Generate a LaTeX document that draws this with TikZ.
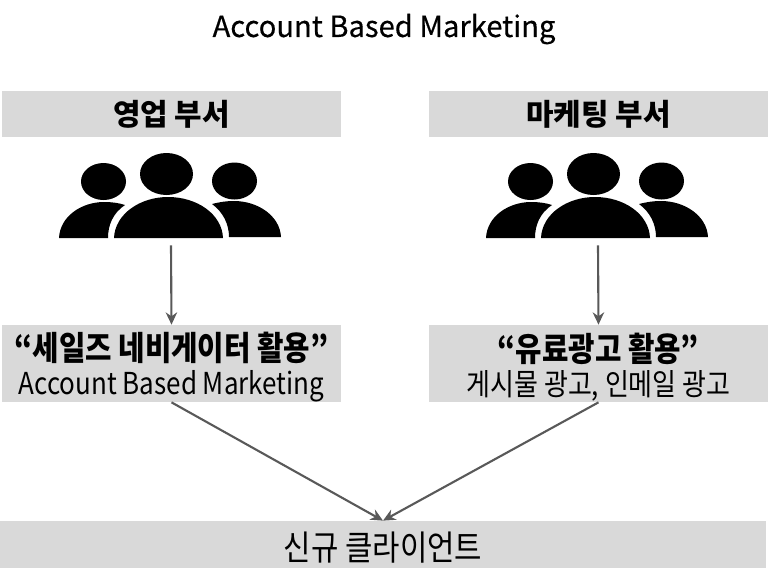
\documentclass[tikz,border=0pt]{standalone}
\usepackage{fontspec}
\setmainfont{Noto Sans CJK KR}
\newfontfamily\narrowfont[FakeStretch=0.86]{Noto Sans CJK KR}
\newfontfamily\titlefont[FakeBold=0.4]{Noto Sans CJK KR}
\usetikzlibrary{arrows.meta}
\definecolor{boxgray}{HTML}{D9D9D9}
\definecolor{arrowgray}{HTML}{595959}
\newcommand{\infohead}{\narrowfont\bfseries\fontsize{19}{23}\selectfont\rule{0pt}{20pt}}
\newcommand{\infotext}{\narrowfont\fontsize{17.2}{21}\selectfont}
\tikzset{
  graybox/.style={fill=boxgray,inner sep=0pt,minimum width=6.78cm,align=center},
  headbox/.style={graybox,minimum height=0.92cm,font=\fontsize{17}{20}\selectfont\bfseries},
  infobox/.style={graybox,minimum height=1.54cm},
  groupbox/.style={inner sep=0pt,minimum width=5.6cm,minimum height=1.9cm},
  flow/.style={-{Stealth[length=7pt,width=6.5pt]},arrowgray,line width=1.2pt}
}
\begin{document}
\begin{tikzpicture}[x=0.02cm,y=-0.02cm]
\useasboundingbox (0,0) rectangle (768,579);
\node (title) at (384,29) {\titlefont\fontsize{16.6}{20}\selectfont Account Based Marketing};
% top row
\node[headbox] (sales) at (171.5,114) {영업 부서};
\node[headbox] (marketing) at (598.5,114) {마케팅 부서};
% people
\node[groupbox] (salesgroup) at (171,197.5) {};
\node[groupbox] (marketinggroup) at (598,197.5) {};
\foreach \dx in {0,427}{
\begin{scope}[xshift=\dx*0.02cm]
\fill (103.5,181.5) ellipse (22.5 and 18.5);
\fill (166.5,174) ellipse (26.5 and 21);
\fill (234.5,181) ellipse (22.5 and 18.5);
\fill (59,238) .. controls (60,216) and (82,202) .. (104,202) .. controls (112,202) and (119,203) .. (125,205) .. controls (113,213) and (108,225) .. (108,238) -- cycle;
\fill (114,238) .. controls (115,214) and (140,197) .. (168,197) .. controls (197,197) and (222,214) .. (223,238) -- cycle;
\fill (212,204) .. controls (220,202) and (226,201) .. (234,201) .. controls (258,201) and (280,216) .. (281,237) -- (229,237) .. controls (229,224) and (223,212) .. (212,204) -- cycle;
\end{scope}
}
% middle row
\node[infobox] (salesinfo) at (171.5,363.5) {{\infohead “세일즈 네비게이터 활용”}\\[2.5pt]{\infotext Account Based Marketing}};
\node[infobox] (marketinginfo) at (598.5,363.5) {{\infohead “유료광고 활용”}\\[2.5pt]{\infotext 게시물 광고, 인메일 광고}};
% bottom row
\node[graybox,minimum width=15.32cm,minimum height=0.94cm,font=\narrowfont\fontsize{19.7}{23}\selectfont] (client) at (383,544.5) {\rule{0pt}{19.5pt}신규 클라이언트};
\draw[flow] (salesgroup.south) -- (salesinfo.north);
\draw[flow] (marketinggroup.south) -- (marketinginfo.north);
\draw[flow] (salesinfo.south) -- (client.north);
\draw[flow] (marketinginfo.south) -- (client.north);
\end{tikzpicture}
\end{document}
